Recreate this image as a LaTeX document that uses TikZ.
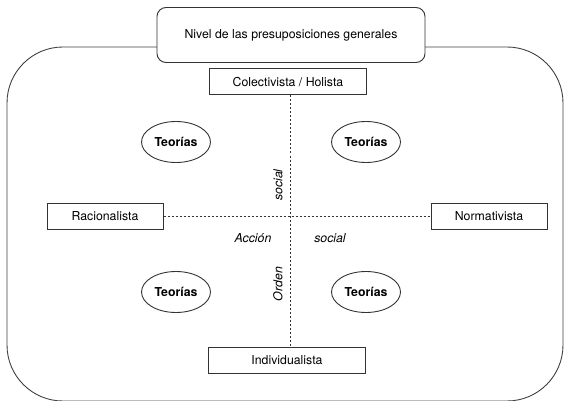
\documentclass[tikz,border=0pt]{standalone}
\usepackage{fontspec}
\setmainfont{TeX Gyre Heros}
\usetikzlibrary{shapes.geometric}
\begin{document}
\begin{tikzpicture}[x=1pt,y=-1pt,
  lbl/.style={font=\fontsize{12.3}{14}\selectfont},
  boxnode/.style={draw=black!80,line width=1pt,minimum height=26pt,lbl},
  teo/.style={ellipse,draw=black!80,line width=0.9pt,minimum width=69pt,minimum height=41pt,inner sep=0pt,font=\fontsize{12.3}{14}\selectfont\bfseries},
  dline/.style={dashed,dash pattern=on 2pt off 2pt,line width=0.9pt,black!80},
  itl/.style={font=\fontsize{12.3}{14}\selectfont\itshape}]
\useasboundingbox (0,0) rectangle (570,401);
\draw[line width=0.9pt,black!75,rounded corners=56pt] (7,47) rectangle (563,401);
\node[draw=black!80,line width=0.9pt,rounded corners=9pt,fill=white,minimum width=268pt,minimum height=55pt,lbl] (title) at (291,35) {Nivel de las presuposiciones generales};
\node[boxnode,minimum width=157pt] (col) at (288,82) {Colectivista / Holista};
\node[boxnode,minimum width=157pt] (ind) at (287,360) {Individualista};
\node[boxnode,minimum width=116pt] (rac) at (105,216) {Racionalista};
\node[boxnode,minimum width=116pt] (nor) at (489,216) {Normativista};
\draw[dline] (col.south -| 290,0) -- (ind.north -| 290,0);
\draw[dline] (rac.east) -- (nor.west);
\node[teo] (t1) at (176,142) {Teorías};
\node[teo] (t2) at (366,142) {Teorías};
\node[teo] (t3) at (176,292) {Teorías};
\node[teo] (t4) at (366,292) {Teorías};
\node[itl,rotate=90] (s1) at (278,185) {social};
\node[itl] (acc) at (253,238) {Acción};
\node[itl] (s2) at (330,238) {social};
\node[itl,rotate=90] (ord) at (278,284) {Orden};
\end{tikzpicture}
\end{document}
